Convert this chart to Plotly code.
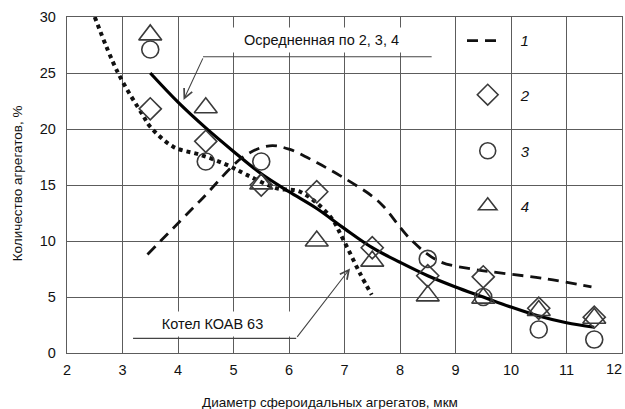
import plotly.graph_objects as go

# ---- data ----
x_ticks = [2, 3, 4, 5, 6, 7, 8, 9, 10, 11, 12]
x_ticktext = ["2", "3", "4", "5", "6", "7", "8", "9", "10", "11", ""]
last_x_label = "12"
y_ticks = [0, 5, 10, 15, 20, 25, 30]

pts_x = [3.5, 4.5, 5.5, 6.5, 7.5, 8.5, 9.5, 10.5, 11.5]
s2_y = [21.8, 18.9, 15.0, 14.4, 9.4, 6.9, 6.8, 4.0, 3.2]
s3_y = [27.1, 17.1, 17.1, None, None, 8.4, 5.0, 2.1, 1.2]
s4_y = [28.4, 21.9, 15.1, 10.0, 8.2, 5.1, 4.9, 3.8, 3.1]

s1_x = [3.45, 4.4, 5.2, 5.65, 6.0, 6.5, 7.0, 7.5, 7.7, 8.2, 8.7, 9.3, 9.8, 10.6, 11.45]
s1_y = [8.8, 13.6, 17.6, 18.5, 18.2, 17.0, 15.6, 14.0, 13.1, 10.1, 8.2, 7.5, 7.15, 6.65, 5.9]

avg_x = [3.5, 4.0, 4.5, 5.0, 5.5, 6.0, 6.5, 7.0, 7.5, 8.0, 8.5, 9.0, 9.5, 10.0, 10.5, 11.0, 11.5]
avg_y = [25.0, 22.4, 20.1, 18.0, 16.0, 14.4, 12.9, 11.1, 9.4, 8.1, 6.9, 5.9, 5.0, 4.1, 3.3, 2.7, 2.3]

koav_x = [2.5, 2.92, 3.37, 3.5, 3.92, 4.4, 4.88, 5.24, 5.78, 6.2, 6.74, 6.98, 7.28, 7.49]
koav_y = [30.0, 25.0, 21.2, 20.2, 18.4, 17.7, 16.8, 15.9, 14.7, 14.4, 12.2, 10.1, 7.1, 5.2]

label_avg = "Осредненная по 2, 3, 4"
label_koav = "Котел КОАВ 63"
x_title = "Диаметр сфероидальных агрегатов, мкм"
y_title = "Количество агрегатов, %"

FONT = "Liberation Sans, Arial, sans-serif"
GRID = "#5c5c5c"
MK = "#3a3a3a"
NB = "\u00a0"

fig = go.Figure()

fig.add_trace(go.Scatter(x=koav_x, y=koav_y, mode="lines", line_shape="spline",
                         line=dict(color="#111", width=4, dash="4px,4px"),
                         showlegend=False, hoverinfo="skip"))
fig.add_trace(go.Scatter(x=avg_x, y=avg_y, mode="lines", line_shape="spline",
                         line=dict(color="#000", width=3.2),
                         showlegend=False, hoverinfo="skip"))
fig.add_trace(go.Scatter(x=s1_x, y=s1_y, mode="lines", line_shape="spline",
                         line=dict(color="#111", width=2.8, dash="11px,7px"),
                         name=NB * 3 + "<i>1</i>", legend="legend"))
fig.add_trace(go.Scatter(x=pts_x, y=s2_y, mode="markers",
                         marker=dict(symbol="diamond-open", size=17, color=MK, line=dict(width=1.6, color=MK)),
                         name="<i>2</i>", legend="legend2"))
fig.add_trace(go.Scatter(x=pts_x, y=s3_y, mode="markers",
                         marker=dict(symbol="circle-open", size=17, color=MK, line=dict(width=1.6, color=MK)),
                         name="<i>3</i>", legend="legend3"))
fig.add_trace(go.Scatter(x=pts_x, y=s4_y, mode="markers",
                         marker=dict(symbol="triangle-up-open", size=20, color=MK, line=dict(width=1.6, color=MK)),
                         name="<i>4</i>", legend="legend4"))

def leg(x, y, w):
    return dict(x=x, y=y, xanchor="left", yanchor="middle", xref="paper", yref="paper",
                bgcolor="rgba(0,0,0,0)", borderwidth=0, itemwidth=w,
                font=dict(family=FONT, size=15, color="#111"))

# annotation texts with white boxes
fig.add_annotation(x=6.58, y=27.95, xref="x", yref="y", text=label_avg, showarrow=False,
                   bgcolor="white", width=175, height=22,
                   font=dict(family=FONT, size=14.5, color="#111"))
fig.add_annotation(x=4.62, y=2.6, xref="x", yref="y", text=label_koav, showarrow=False,
                   bgcolor="white", width=153, height=22,
                   font=dict(family=FONT, size=14.5, color="#111"))
# leader lines
fig.add_shape(type="line", x0=4.45, x1=8.57, y0=26.45, y1=26.45, xref="x", yref="y",
              line=dict(color="#444", width=1.2))
fig.add_shape(type="line", x0=3.19, x1=6.13, y0=1.3, y1=1.3, xref="x", yref="y",
              line=dict(color="#444", width=1.2))
fig.add_annotation(x=4.1, y=22.6, xref="x", yref="y", text="", showarrow=True,
                   ax=20, ay=-43, arrowhead=5, arrowsize=1.6, arrowwidth=1.1, arrowcolor="#444")
fig.add_annotation(x=7.1, y=7.55, xref="x", yref="y", text="", showarrow=True,
                   ax=-54, ay=70, arrowhead=5, arrowsize=1.6, arrowwidth=1.1, arrowcolor="#444")

# last x tick label kept inside the page edge
fig.add_annotation(x=1, y=0, xref="paper", yref="paper", xanchor="right", yanchor="middle",
                   xshift=2, yshift=-16, text=last_x_label, showarrow=False,
                   font=dict(family=FONT, size=14.5, color="#111"))

# axis titles
fig.add_annotation(x=0, y=0.505, xref="paper", yref="paper", xshift=-50, xanchor="center",
                   yanchor="middle", text=y_title,
                   textangle=-90, showarrow=False, font=dict(family=FONT, size=13.5, color="#111"))
fig.add_annotation(x=0.474, y=0, xref="paper", yref="paper", yshift=-49, xanchor="center",
                   yanchor="middle", text=x_title,
                   showarrow=False, font=dict(family=FONT, size=13.5, color="#111"))

axis_common = dict(showgrid=True, gridcolor=GRID, gridwidth=1.4, zeroline=False,
                   showline=True, linecolor=GRID, linewidth=1.4, mirror=True,
                   ticks="outside", tickcolor="rgba(0,0,0,0)", automargin=False,
                   tickfont=dict(family=FONT, size=14.5, color="#111"))

fig.update_layout(
    width=625, height=409, autosize=False,
    margin=dict(l=67, r=3, t=17, b=56, autoexpand=False),
    paper_bgcolor="white", plot_bgcolor="white",
    xaxis=dict(range=[2, 12], tickvals=x_ticks, ticktext=x_ticktext,
               ticklen=3, **axis_common),
    yaxis=dict(range=[0, 30], tickvals=y_ticks, ticktext=[str(v) for v in y_ticks],
               ticklen=7, **axis_common),
    legend=leg(0.7117, 0.929, 36),
    legend2=leg(0.6986, 0.768, 56),
    legend3=leg(0.6986, 0.601, 56),
    legend4=leg(0.6986, 0.4375, 56),
    font=dict(family=FONT, size=15, color="#111"),
)

fig.write_html("out.html")
